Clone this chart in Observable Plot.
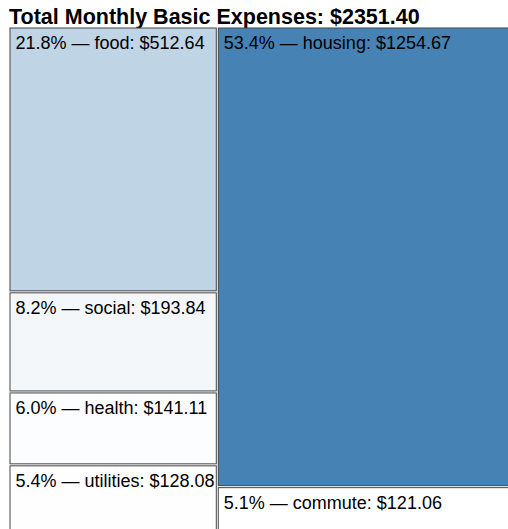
<!DOCTYPE html>
<html>
<head>
<meta charset="utf-8">
<script src="https://cdn.jsdelivr.net/npm/d3@7"></script>
<script src="https://cdn.jsdelivr.net/npm/@observablehq/plot@0.6"></script>
<style>
  html, body { margin: 0; padding: 0; overflow: hidden; background: white; }
  #title {
    font-family: "Liberation Sans", Arial, Helvetica, sans-serif;
    font-weight: bold; font-size: 21.5px; line-height: 20px;
    height: 27px; box-sizing: border-box; padding: 7px 0 0 9px;
    white-space: nowrap; color: #000;
  }
  #chart { width: 600px; }
  #chart svg { display: block; max-width: none !important; }
</style>
</head>
<body>
<div id="title"></div>
<div id="chart"></div>
<script>
const categories = ["food", "social", "health", "utilities", "housing", "commute"];
const values = [512.64, 193.84, 141.11, 128.08, 1254.67, 121.06];

const total = d3.sum(values);
document.getElementById("title").textContent =
  "Total Monthly Basic Expenses: $" + total.toFixed(2);

// layout computed in a unit square (d3 squarify, data order kept), mapped by Plot's scales
const W = 502, H = 504, X0 = 9;
const root = d3.hierarchy({children: categories.map((name, i) => ({name, value: values[i]}))})
  .sum(d => d.value || 0);
d3.treemap().tile(d3.treemapSquarify).size([1, 1]).round(false)(root);
const leaves = root.leaves().map(n => ({
  name: n.data.name, value: n.data.value,
  x0: n.x0, x1: n.x1, y0: n.y0, y1: n.y1
}));

const label = d => `${(100 * d.value / total).toFixed(1)}% \u2014 ${d.name}: $${d.value.toFixed(2)}`;

const chart = Plot.plot({
  width: X0 + W + 2,
  height: H + 2,
  margin: 0,
  style: {fontFamily: '"Liberation Sans", Arial, Helvetica, sans-serif', background: "white", maxWidth: "none"},
  x: {domain: [0, 1], range: [X0, X0 + W], axis: null},
  y: {domain: [0, 1], range: [0, H], axis: null},
  color: {type: "linear", domain: [d3.min(values), d3.max(values)], range: ["white", "steelblue"], interpolate: "rgb"},
  marks: [
    Plot.rect(leaves, {x1: "x0", x2: "x1", y1: "y0", y2: "y1", fill: "value", stroke: "#444", strokeWidth: 1, inset: 1}),
    Plot.text(leaves, {x: "x0", y: "y0", text: label, textAnchor: "start", lineAnchor: "top",
      dx: 6, dy: 9, fontSize: 18, fill: "black"})
  ]
});
document.getElementById("chart").appendChild(chart);
</script>
</body>
</html>
